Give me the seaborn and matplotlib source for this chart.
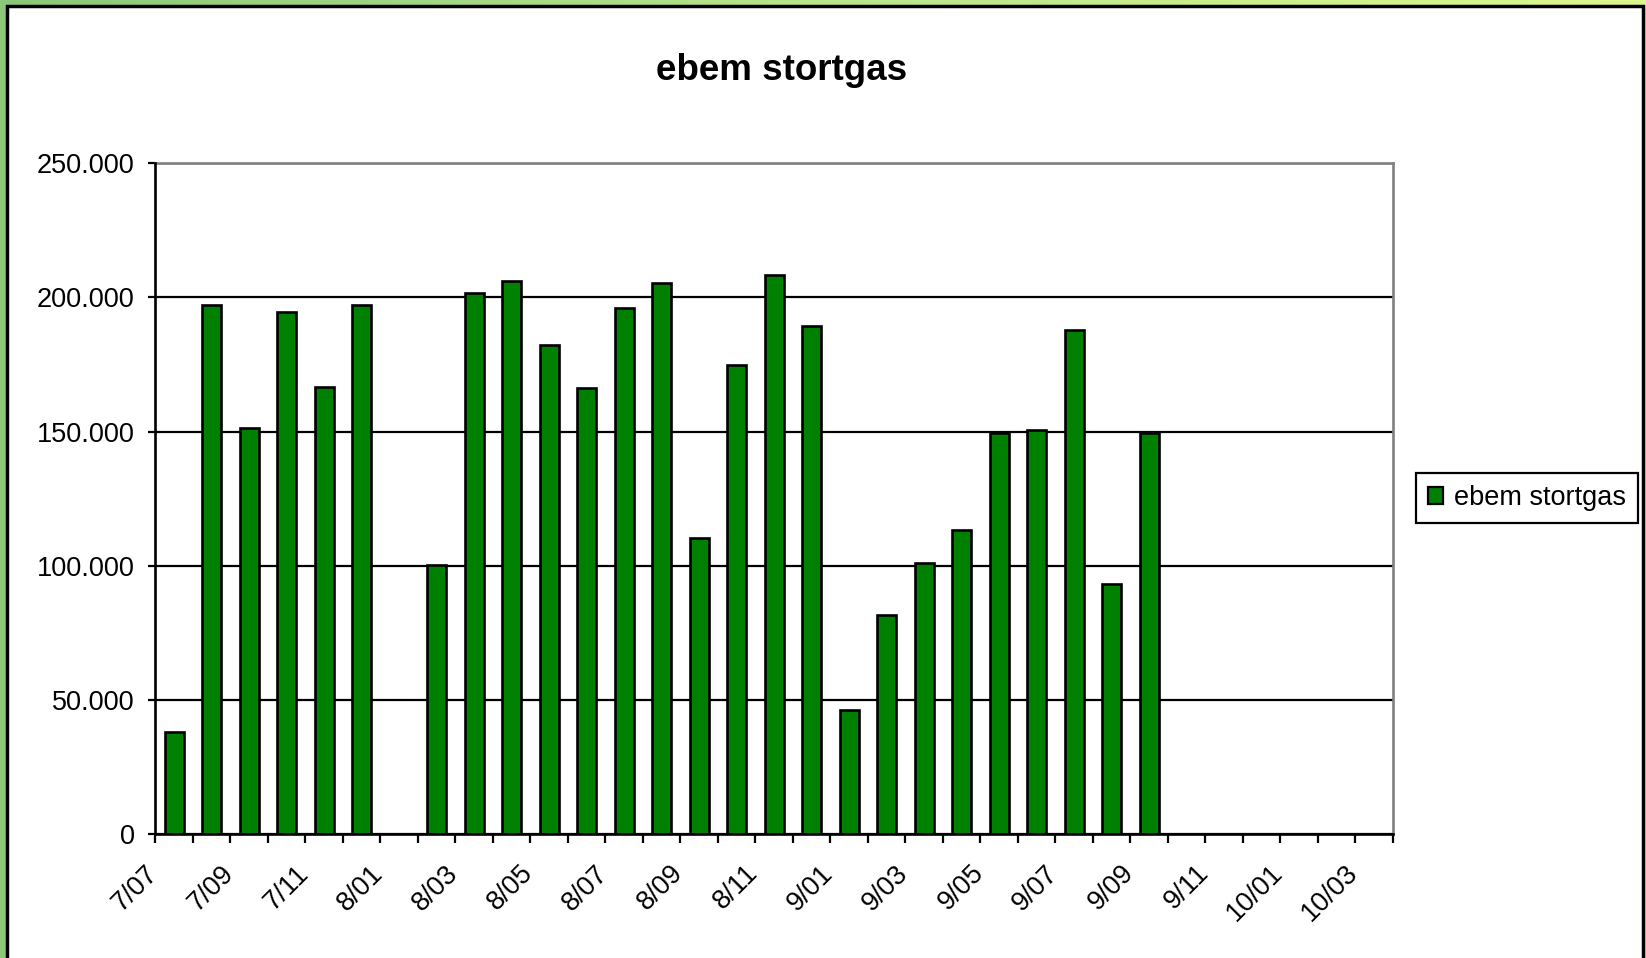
import numpy as np
import pandas as pd
import matplotlib
matplotlib.use("Agg")
import matplotlib.pyplot as plt
import matplotlib.transforms as mtransforms
from matplotlib.patches import Rectangle, Patch
from matplotlib.ticker import FuncFormatter, FixedLocator
import seaborn as sns

# ---- data ----
categories = ["7/07", "7/08", "7/09", "7/10", "7/11", "7/12",
              "8/01", "8/02", "8/03", "8/04", "8/05", "8/06", "8/07", "8/08", "8/09", "8/10", "8/11", "8/12",
              "9/01", "9/02", "9/03", "9/04", "9/05", "9/06", "9/07", "9/08", "9/09", "9/10", "9/11", "9/12",
              "10/01", "10/02", "10/03"]
values = [38000, 197000, 151500, 194400, 166600, 197100,
          np.nan, 100100, 201600, 206300, 182100, 166400, 196000, 205300, 110300, 174800, 208200, 189400,
          46200, 81700, 101200, 113300, 149600, 150500, 187800, 93000, 149600, np.nan, np.nan, np.nan,
          np.nan, np.nan, np.nan]
series_name = "ebem stortgas"
title = "ebem stortgas"
y_ticks = [0, 50000, 100000, 150000, 200000, 250000]

df = pd.DataFrame({"month": categories, "value": values})

sns.set_style("white")
plt.rcParams["font.family"] = ["Liberation Sans", "DejaVu Sans"]
plt.rcParams["text.color"] = "black"
plt.rcParams["xtick.color"] = "black"
plt.rcParams["ytick.color"] = "black"
plt.rcParams["axes.labelcolor"] = "black"

W, H = 1646, 958
fig = plt.figure(figsize=(W / 100, H / 100), dpi=100)

# background gradient (slide)
bg = fig.add_axes([0, 0, 1, 1], zorder=-10)
grad = np.linspace(0, 1, 256).reshape(1, -1)
cmap = matplotlib.colors.LinearSegmentedColormap.from_list("g", ["#8cc878", "#b8e58a", "#dcf78e"])
bg.imshow(grad, aspect="auto", cmap=cmap, extent=[0, 1, 0, 1])
bg.set_axis_off()

# chart area (white with black border)
fig.patches.append(Rectangle((7 / W, -0.02), 1636 / W, 1.02 - 6 / H, transform=fig.transFigure,
                             facecolor="white", edgecolor="black", linewidth=2.5, zorder=-5))

left, right = 155.4 / W, 1393 / W
top, bottom = 1 - 163.3 / H, 1 - 834 / H
ax = fig.add_axes([left, bottom, right - left, top - bottom])
ax.set_facecolor("white")

sns.barplot(data=df, x="month", y="value", order=categories, color="#008000",
            edgecolor="black", linewidth=1.9, width=0.5, saturation=1, ax=ax, zorder=3)
for p in ax.patches:
    p.set_facecolor("#008000")

ax.set_xlim(-0.5, len(categories) - 0.5)
ax.set_ylim(0, 250000)
ax.set_yticks(y_ticks)
ax.yaxis.set_major_formatter(FuncFormatter(lambda v, _: f"{int(v):,}".replace(",", ".")))
ax.grid(axis="y", color="black", linewidth=1.6, zorder=1)
ax.set_axisbelow(True)

# x ticks at category boundaries, labels on every other category
bounds = [i - 0.5 for i in range(len(categories) + 1)]
ax.set_xticks([i - 0.5 for i in range(0, len(categories), 2)])
ax.set_xticklabels(categories[::2])
ax.xaxis.set_minor_locator(FixedLocator(bounds))
ax.tick_params(axis="x", which="both", direction="out", length=6.5, width=1.6, color="black",
               bottom=True)
ax.tick_params(axis="x", which="major", labelsize=19.5, pad=19, labelcolor="black")
ax.tick_params(axis="y", direction="out", length=5, width=1.6, color="black", labelsize=19.5,
               pad=10, left=True, labelcolor="black")
offset = mtransforms.ScaledTranslation(-1 / 100, 0, fig.dpi_scale_trans)
for lbl in ax.get_xticklabels():
    lbl.set_rotation(45)
    lbl.set_ha("right")
    lbl.set_va("center")
    lbl.set_rotation_mode("anchor")
    lbl.set_transform(lbl.get_transform() + offset)

ax.set_xlabel("")
ax.set_ylabel("")
for side in ["left", "bottom"]:
    ax.spines[side].set_color("black")
    ax.spines[side].set_linewidth(1.9)
for side in ["top", "right"]:
    ax.spines[side].set_color("#808080")
    ax.spines[side].set_linewidth(1.9)
    ax.spines[side].set_visible(True)
ax.spines["left"].set_zorder(4)
ax.spines["bottom"].set_zorder(4)

fig.text(782 / W, 1 - 70 / H, title, ha="center", va="center", fontsize=26.5,
         fontweight="bold", color="black")

handle = Patch(facecolor="#008000", edgecolor="black", linewidth=1.6, label=series_name)
leg = fig.legend(handles=[handle], loc="center", bbox_to_anchor=(1527 / W, 1 - 498 / H),
                 fontsize=19.5, frameon=True, fancybox=False, shadow=False,
                 handlelength=0.56, handleheight=0.56, handletextpad=0.4, borderpad=0.45,
                 borderaxespad=0)
leg.get_frame().set_edgecolor("black")
leg.get_frame().set_linewidth(1.6)
leg.get_frame().set_facecolor("white")
leg.get_frame().set_alpha(1)
for t in leg.get_texts():
    t.set_color("black")

fig.savefig("out.png", dpi=100)
